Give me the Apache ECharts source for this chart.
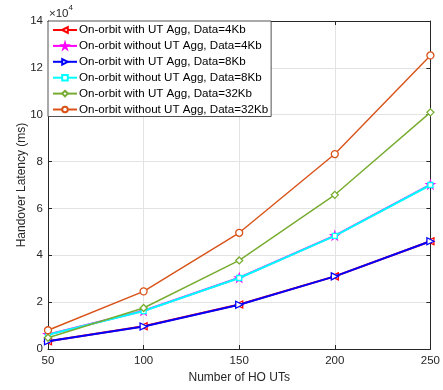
<!DOCTYPE html>
<html><head><meta charset="utf-8">
<script src="https://cdn.jsdelivr.net/npm/echarts@6/dist/echarts.min.js"></script>
<style>html,body{margin:0;padding:0;background:#fff}#c{width:443px;height:390px}</style>
</head><body><div id="c"></div>
<script>
const xValues = [50, 100, 150, 200, 250];
const seriesNames = [
  'On-orbit with UT Agg, Data=4Kb',
  'On-orbit without UT Agg, Data=4Kb',
  'On-orbit with UT Agg, Data=8Kb',
  'On-orbit without UT Agg, Data=8Kb',
  'On-orbit with UT Agg, Data=32Kb',
  'On-orbit without UT Agg, Data=32Kb'
];
const withAgg4 = [3300, 9700, 19000, 31000, 46000];
const withoutAgg4 = [6200, 16300, 30400, 48400, 70200];
const withAgg8 = [3300, 9600, 18900, 31000, 46000];
const withoutAgg8 = [6100, 16200, 30300, 48300, 70000];
const withAgg32 = [4800, 17500, 37800, 65800, 101000];
const withoutAgg32 = [8000, 24600, 49600, 83200, 125300];
const yTicks = [0, 2, 4, 6, 8, 10, 12, 14];

const allData = [withAgg4, withoutAgg4, withAgg8, withoutAgg8, withAgg32, withoutAgg32];
const colors = ['#FF0000', '#FF00FF', '#0000FF', '#00FFFF', '#77AC30', '#D95319'];
const symbols = [
  'path://M0,50 L90,0 L90,100 Z',
  'path://M50,0 L61,35 L98,35 L68,57 L79,91 L50,70 L21,91 L32,57 L2,35 L39,35 Z',
  'path://M90,50 L0,0 L0,100 Z',
  'rect',
  'diamond',
  'circle'
];
const widths = [2, 2, 2, 2, 1.4, 1.4];
const sizes = [7, 8, 7, 5, 7, 7];

const series = allData.map((d, i) => ({
  name: seriesNames[i],
  type: 'line',
  data: d.map((v, j) => [xValues[j], v]),
  symbol: symbols[i],
  symbolSize: sizes[i],
  lineStyle: { color: colors[i], width: widths[i] },
  itemStyle: { color: '#fff', borderColor: colors[i], borderWidth: 1.3 },
  emphasis: { disabled: true },
  animation: false,
  z: 3 + i
}));

const axisColor = '#262626';
const chart = echarts.init(document.getElementById('c'), null, { renderer: 'canvas' });
chart.setOption({
  backgroundColor: '#fff',
  animation: false,
  grid: { left: 48, right: 10, top: 21, bottom: 41, show: false },
  legend: {
    orient: 'vertical', left: 48, top: 21,
    itemWidth: 24, itemHeight: 7, itemGap: 3.9,
    padding: [3, 3, 1, 4],
    backgroundColor: '#fff', borderColor: axisColor, borderWidth: 0.8,
    textStyle: { fontFamily: 'Liberation Sans, Arial', fontSize: 11.6, color: '#000', padding: [0, 0, 0, -3] },
    data: seriesNames,
    selectedMode: false
  },
  xAxis: [{
    type: 'value', min: 50, max: 250, interval: 50, position: 'bottom',
    name: 'Number of HO UTs', nameLocation: 'middle', nameGap: 23, nameMoveOverlap: false,
    nameTextStyle: { fontFamily: 'Liberation Sans, Arial', fontSize: 12, color: axisColor },
    axisLine: { show: true, lineStyle: { color: axisColor, width: 1 } },
    axisTick: { show: true, inside: true, length: 4, lineStyle: { color: axisColor } },
    axisLabel: { fontFamily: 'Liberation Sans, Arial', fontSize: 11.5, color: axisColor, margin: 6 },
    splitLine: { show: true, lineStyle: { color: '#e3e3e3', width: 1 } }
  }, {
    type: 'value', min: 50, max: 250, interval: 50, position: 'top',
    axisLine: { show: true, onZero: false, lineStyle: { color: axisColor, width: 1 } },
    axisTick: { show: true, inside: true, length: 4, lineStyle: { color: axisColor } },
    axisLabel: { show: false }, splitLine: { show: false }
  }],
  yAxis: [{
    type: 'value', min: 0, max: 140000, interval: 20000, position: 'left',
    name: 'Handover Latency (ms)', nameLocation: 'middle', nameGap: 20, nameRotate: 90, nameMoveOverlap: false,
    nameTextStyle: { fontFamily: 'Liberation Sans, Arial', fontSize: 12, color: axisColor },
    axisLine: { show: true, lineStyle: { color: axisColor, width: 1 } },
    axisTick: { show: true, inside: true, length: 4, lineStyle: { color: axisColor } },
    axisLabel: { fontFamily: 'Liberation Sans, Arial', fontSize: 11.5, color: axisColor, margin: 5,
      formatter: v => String(yTicks[Math.round(v / 20000)]) },
    splitLine: { show: true, lineStyle: { color: '#e3e3e3', width: 1 } }
  }, {
    type: 'value', min: 0, max: 140000, interval: 20000, position: 'right',
    axisLine: { show: true, onZero: false, lineStyle: { color: axisColor, width: 1 } },
    axisTick: { show: true, inside: true, length: 4, lineStyle: { color: axisColor } },
    axisLabel: { show: false }, splitLine: { show: false }
  }],
  graphic: [{
    type: 'text', left: 49, top: 4,
    style: {
      text: '{a|×10}{b|4}',
      rich: {
        a: { fontFamily: 'Liberation Sans, Arial', fontSize: 11.5, fill: axisColor, verticalAlign: 'bottom' },
        b: { fontFamily: 'Liberation Sans, Arial', fontSize: 8, fill: axisColor, verticalAlign: 'top', padding: [0, 0, 8, 0] }
      }
    }
  }],
  series: series
});
</script></body></html>
